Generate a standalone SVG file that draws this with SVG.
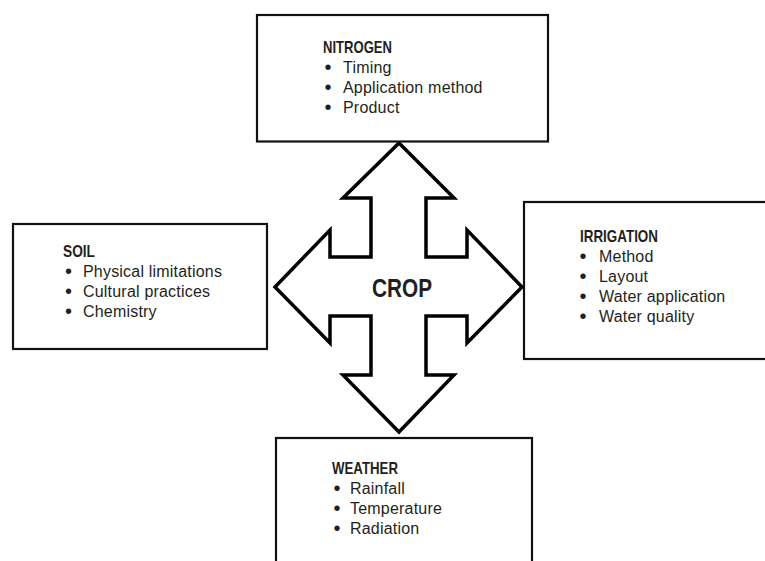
<svg xmlns="http://www.w3.org/2000/svg" width="765" height="561" viewBox="0 0 765 561">
<style>
.box{fill:#fff;stroke:#111;stroke-width:2.2}
.arrow{fill:#fff;stroke:#000;stroke-width:3.5;stroke-linejoin:miter}
.h{font-family:"Liberation Sans",Arial,sans-serif;font-weight:bold;font-size:17px;fill:#231f20}
.t{font-family:"Liberation Sans",Arial,sans-serif;font-size:16px;fill:#231f20;letter-spacing:0.2px}
.b{font-family:"Liberation Sans",Arial,sans-serif;font-size:20px;fill:#231f20;text-anchor:middle}
.crop{font-family:"Liberation Sans",Arial,sans-serif;font-weight:bold;font-size:25px;fill:#231f20}
</style>
<rect width="765" height="561" fill="#fff"/>
<g id="connectors">
<path class="arrow" d="M399,143 L454,198 L426,198 L426,257 L467,257 L467,230 L522,287 L467,343 L467,316 L426,316 L426,375 L454,375 L399,432 L343,375 L371,375 L371,316 L330,316 L330,343 L275,287 L330,230 L330,257 L371,257 L371,198 L343,198 Z"/>
</g>
<g id="crop">
<text class="crop" x="372" y="297" textLength="60" lengthAdjust="spacingAndGlyphs">CROP</text>
</g>
<g id="nitrogen">
<rect class="box" x="257" y="15" width="291" height="126.5"/>
<text class="h" x="323" y="53" textLength="69" lengthAdjust="spacingAndGlyphs">NITROGEN</text>
<text class="b" x="328" y="74">•</text><text class="t" x="343" y="73">Timing</text>
<text class="b" x="328" y="94">•</text><text class="t" x="343" y="93">Application method</text>
<text class="b" x="328" y="114">•</text><text class="t" x="343" y="113">Product</text>
</g>
<g id="soil">
<rect class="box" x="13" y="224" width="254" height="125"/>
<text class="h" x="63" y="257" textLength="32" lengthAdjust="spacingAndGlyphs">SOIL</text>
<text class="b" x="68.5" y="278">•</text><text class="t" x="83" y="277">Physical limitations</text>
<text class="b" x="68.5" y="298">•</text><text class="t" x="83" y="297">Cultural practices</text>
<text class="b" x="68.5" y="318">•</text><text class="t" x="83" y="317">Chemistry</text>
</g>
<g id="irrigation">
<rect class="box" x="524" y="202" width="260" height="157"/>
<text class="h" x="580" y="242" textLength="78" lengthAdjust="spacingAndGlyphs">IRRIGATION</text>
<text class="b" x="583" y="263">•</text><text class="t" x="599" y="262">Method</text>
<text class="b" x="583" y="283">•</text><text class="t" x="599" y="282">Layout</text>
<text class="b" x="583" y="303">•</text><text class="t" x="599" y="302">Water application</text>
<text class="b" x="583" y="323">•</text><text class="t" x="599" y="322">Water quality</text>
</g>
<g id="weather">
<rect class="box" x="276" y="438" width="256" height="140"/>
<text class="h" x="332" y="474" textLength="66" lengthAdjust="spacingAndGlyphs">WEATHER</text>
<text class="b" x="337" y="495">•</text><text class="t" x="350" y="494">Rainfall</text>
<text class="b" x="337" y="515">•</text><text class="t" x="350" y="514">Temperature</text>
<text class="b" x="337" y="535">•</text><text class="t" x="350" y="534">Radiation</text>
</g>
</svg>
